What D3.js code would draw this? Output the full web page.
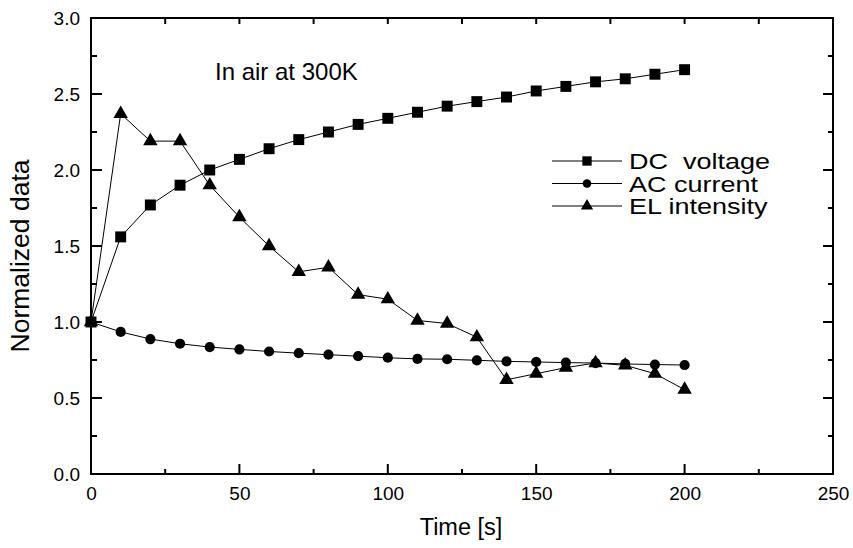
<!DOCTYPE html>
<html>
<head>
<meta charset="utf-8">
<script src="https://cdn.jsdelivr.net/npm/d3@7"></script>
<style>
  body { margin: 0; background: #fff; }
  svg { font-family: "Liberation Sans", Arial, sans-serif; }
</style>
</head>
<body>
<svg id="chart" width="853" height="548"></svg>
<script>
// data
var times = [0, 10, 20, 30, 40, 50, 60, 70, 80, 90, 100, 110, 120, 130, 140, 150, 160, 170, 180, 190, 200];
var dcVoltage = [1.0, 1.56, 1.77, 1.90, 2.0, 2.07, 2.14, 2.20, 2.25, 2.30, 2.34, 2.38, 2.42, 2.45, 2.48, 2.52, 2.55, 2.58, 2.60, 2.63, 2.66];
var acCurrent = [1.0, 0.935, 0.888, 0.857, 0.835, 0.82, 0.806, 0.795, 0.785, 0.775, 0.765, 0.757, 0.755, 0.748, 0.741, 0.737, 0.733, 0.73, 0.724, 0.72, 0.717];
var elIntensity = [1.0, 2.37, 2.19, 2.19, 1.90, 1.69, 1.50, 1.33, 1.36, 1.18, 1.15, 1.01, 0.99, 0.90, 0.62, 0.66, 0.70, 0.73, 0.715, 0.66, 0.555];
var seriesNames = ["DC  voltage", "AC current", "EL intensity"];
var seriesMarkers = ["square", "circle", "triangle"];
var xTicks = [0, 50, 100, 150, 200, 250];
var yTicks = [0.0, 0.5, 1.0, 1.5, 2.0, 2.5, 3.0];
var xMinor = [25, 75, 125, 175, 225];
var yMinor = [0.25, 0.75, 1.25, 1.75, 2.25, 2.75];

var svg = d3.select("#chart");
var margin = {left: 91, right: 20, top: 18, bottom: 74};
var W = 853, H = 548;

var x = d3.scaleLinear().domain([0, 250]).range([margin.left, W - margin.right]);
var y = d3.scaleLinear().domain([0, 3]).range([H - margin.bottom, margin.top]);

var series = [dcVoltage, acCurrent, elIntensity];

// marker shapes
var symbolFor = function(kind, scale) {
  var s = scale || 1;
  if (kind == "square") return d3.symbol().type(d3.symbolSquare).size(120 * s * s)();
  if (kind == "circle") return d3.symbol().type(d3.symbolCircle).size(82 * s * s)();
  return d3.symbol().type(d3.symbolTriangle).size(90 * s * s)();
};

// tick labels from d3 axes, tick marks drawn inward by hand
var axisG = svg.append("g");

axisG.append("g")
  .attr("transform", `translate(0,${y(0)})`)
  .call(d3.axisBottom(x).tickValues(xTicks).tickSize(0).tickPadding(13).tickFormat(d3.format("d")));
axisG.append("g")
  .attr("transform", `translate(${x(0)},0)`)
  .call(d3.axisLeft(y).tickValues(yTicks).tickSize(0).tickPadding(11).tickFormat(d3.format(".1f")));

axisG.selectAll(".domain").remove();
axisG.selectAll(".tick text").attr("font-size", 19).attr("fill", "#000")
  .attr("font-family", "Liberation Sans, Arial, sans-serif");

var tickG = svg.append("g").attr("stroke", "#000").attr("stroke-width", 2);

var addTicks = function(values, scale, horizontal, at, len) {
  tickG.append("g").selectAll("line")
    .data(values)
    .join("line")
    .attr("x1", function(d) { return horizontal ? scale(d) : at; })
    .attr("x2", function(d) { return horizontal ? scale(d) : at + len; })
    .attr("y1", function(d) { return horizontal ? at : scale(d); })
    .attr("y2", function(d) { return horizontal ? at + len : scale(d); });
};

addTicks(xTicks, x, true, y(0), -10);   // bottom major
addTicks(xMinor, x, true, y(0), -5);    // bottom minor
addTicks(xTicks, x, true, y(3), 6);     // top
addTicks(xMinor, x, true, y(3), 6);
addTicks(yTicks, y, false, x(0), 11);   // left major
addTicks(yMinor, y, false, x(0), 6);    // left minor
addTicks(yTicks, y, false, x(250), -10); // right major
addTicks(yMinor, y, false, x(250), -5);  // right minor

svg.append("rect")
  .attr("x", x(0)).attr("y", y(3))
  .attr("width", x(250) - x(0)).attr("height", y(0) - y(3))
  .attr("fill", "none").attr("stroke", "#000").attr("stroke-width", 2);

// data lines and markers
var line = d3.line().x(function(d, i) { return x(times[i]); }).y(function(d) { return y(d); });

series.forEach(function(values, k) {
  svg.append("path")
    .attr("d", line(values))
    .attr("fill", "none").attr("stroke", "#000").attr("stroke-width", 1);
  svg.append("g").selectAll("path")
    .data(values)
    .join("path")
    .attr("d", symbolFor(seriesMarkers[k]))
    .attr("transform", function(d, i) {
      return `translate(${x(times[i])},${y(d)})`;
    })
    .attr("fill", "#000");
});

// legend
var legend = svg.append("g").attr("transform", "translate(552,161)");
seriesNames.forEach(function(name, k) {
  var row = legend.append("g").attr("transform", `translate(0,${k * 22.5})`);
  row.append("line").attr("x1", 0).attr("x2", 70).attr("y1", 0).attr("y2", 0)
    .attr("stroke", "#000").attr("stroke-width", 1);
  row.append("path").attr("d", symbolFor(seriesMarkers[k], 0.85))
    .attr("transform", "translate(35,0)").attr("fill", "#000");
  row.append("text")
    .attr("transform", "translate(77,8) scale(1.2,1)")
    .attr("font-size", 22.5)
    .style("white-space", "pre")
    .text(name);
});

svg.append("text").attr("x", 215).attr("y", 80).attr("font-size", 24).text("In air at 300K");

svg.append("text").attr("x", 461).attr("y", 535)
  .attr("text-anchor", "middle").attr("font-size", 23.5).text("Time [s]");

svg.append("text")
  .attr("transform", "translate(29,256) rotate(-90)")
  .attr("text-anchor", "middle").attr("font-size", 26.5).text("Normalized data");
</script>
</body>
</html>
